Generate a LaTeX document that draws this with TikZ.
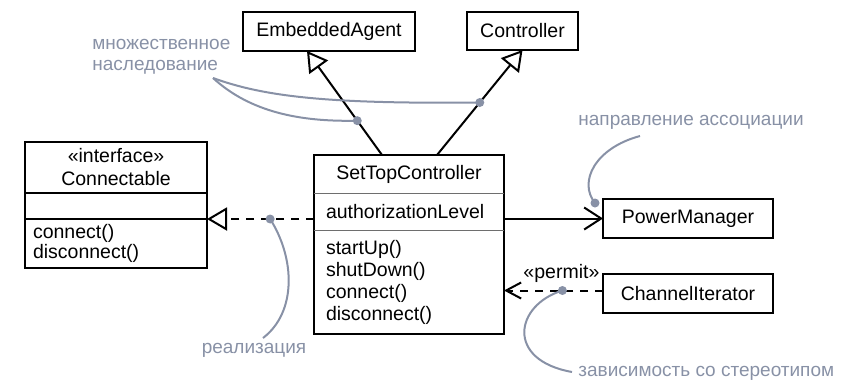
\documentclass[tikz,border=0pt]{standalone}
\usepackage{fontspec}
\setmainfont{Liberation Sans}
\usepackage{xcolor}
\usetikzlibrary{arrows.meta, positioning, fit}

\definecolor{notegray}{RGB}{136,145,166}
\definecolor{rulegray}{RGB}{110,110,110}

\begin{document}
\begin{tikzpicture}[
    x=0.5pt, y=-0.5pt,
    font=\fontsize{9.75}{11}\selectfont,
    cls/.style     = {rectangle, draw, line width=1.1pt, inner sep=0pt,
                      outer sep=0pt, align=center},
    part/.style    = {rectangle, inner sep=0pt, outer sep=0pt, align=center},
    opspart/.style = {part, align=left, inner xsep=6pt, text width=83pt},
    frame/.style   = {rectangle, draw, line width=1.1pt, inner sep=0pt,
                      outer sep=0pt},
    thinsep/.style = {line width=0.5pt, draw=rulegray},
    thicksep/.style= {line width=1.1pt},
    note/.style    = {text=notegray, align=left, inner sep=0pt,
                      font=\fontsize{9.5}{10.5}\selectfont},
    notecurve/.style = {draw=notegray, line width=1pt},
    pin/.style     = {circle, fill=notegray, inner sep=0pt, minimum size=4.5pt},
    gen/.style     = {line width=1pt,
                      -{Triangle[length=10pt, width=11.5pt, fill=white]}},
    realize/.style = {line width=1pt, dash pattern=on 4pt off 3.5pt,
                      -{Triangle[length=10pt, width=11.5pt, fill=white]}},
    assoc/.style   = {line width=1pt, -{Straight Barb[length=8.5pt, width=11pt]}},
    depend/.style  = {line width=1pt, dash pattern=on 4pt off 3.5pt,
                      -{Straight Barb[length=7.5pt, width=8pt]}}
]
\useasboundingbox (0,0) rectangle (850,381);

% ========= SetTopController =========
\node[part, minimum width=95pt, minimum height=19pt] (stcname) at (409,174)
    {SetTopController};
\node[opspart, minimum height=18.5pt, below=0pt of stcname] (stcattr)
    {authorizationLevel};
\node[opspart, minimum height=52pt, below=0pt of stcattr] (stcops)
    {startUp()\\shutDown()\\connect()\\disconnect()};
\node[frame, fit=(stcname)(stcops)] (stc) {};
\draw[thinsep] (stcattr.north west) -- (stcattr.north east);
\draw[thinsep] (stcops.north west)  -- (stcops.north east);

% ========= Connectable =========
\node[part, minimum width=91pt, minimum height=25.5pt] (connname) at (116,167.5)
    {«interface»\\[0.5pt]Connectable};
\node[part, minimum width=91pt, minimum height=13pt, below=0pt of connname] (connattr) {};
\node[opspart, inner xsep=4pt, minimum height=24.5pt, below=0pt of connattr] (connops)
    {connect()\\[-1pt]disconnect()};
\node[frame, fit=(connname)(connops)] (conn) {};
\draw[thicksep] (connattr.north west) -- (connattr.north east);
\draw[thicksep] (connops.north west)  -- (connops.north east);

% ========= other classes =========
\node[cls, minimum width=86pt,   minimum height=19.5pt] (agent) at (329,31.5)   {EmbeddedAgent};
\node[cls, minimum width=55.5pt, minimum height=19pt]   (ctrl)  at (522.5,31)   {Controller};
\node[cls, minimum width=85pt,   minimum height=19.5pt] (power) at (688,218.5)  {PowerManager};
\node[cls, minimum width=85pt,   minimum height=19.5pt] (chan)  at (688,293.5)  {ChannelIterator};

% ========= relationships =========
\draw[gen] ([xshift=-13.5pt]stc.north) -- coordinate[pos=0.33] (agentdot) ([xshift=-11pt]agent.south);
\draw[gen] ([xshift=14pt]stc.north) -- coordinate[pos=0.5] (ctrldot) (ctrl.south);
\draw[realize] (stc.west |- connops.north) -- coordinate[pos=0.41] (realdot) (connops.north east);
\draw[assoc] (power.west -| stc.east) -- (power.west);
\coordinate (depstart) at ([yshift=1.5pt]chan.west);
\draw[depend] (depstart) -- coordinate[pos=0.41] (depdot)
    node[pos=0.42, above=0pt] (permit) {«permit»} (depstart -| stc.east);

% ========= notes =========
\node[note, anchor=west] (inhnote)   at (92,57)  {множественное\\наследование};
\node[note, anchor=west] (assocnote) at (578,122) {направление ассоциации};
\node[note]              (realnote)  at (254,350) {реализация};
\node[note, anchor=west] (depnote)   at (578,373) {зависимость со стереотипом};

\coordinate (inhtail)   at (213,78);
\coordinate (assoctail) at (640,136);
\coordinate (assocdot)  at ([xshift=-4pt,yshift=-2pt]power.north west);
\coordinate (realtail)  at (263,338);
\coordinate (deptail)   at (572,372);

\draw[notecurve] (inhtail) .. controls (265,97) and (330,104) .. (ctrldot);
\draw[notecurve] (inhtail) .. controls (250,112) and (300,122) .. (agentdot);
\draw[notecurve] (assoctail) .. controls (595,148) and (578,182) .. (assocdot);
\draw[notecurve] (realdot) .. controls (295,258) and (297,312) .. (realtail);
\draw[notecurve] (depdot) .. controls (515,305) and (505,360) .. (deptail);

\foreach \d in {agentdot, ctrldot, assocdot, realdot, depdot}
    \node[pin] (pin-\d) at (\d) {};

\end{tikzpicture}
\end{document}
